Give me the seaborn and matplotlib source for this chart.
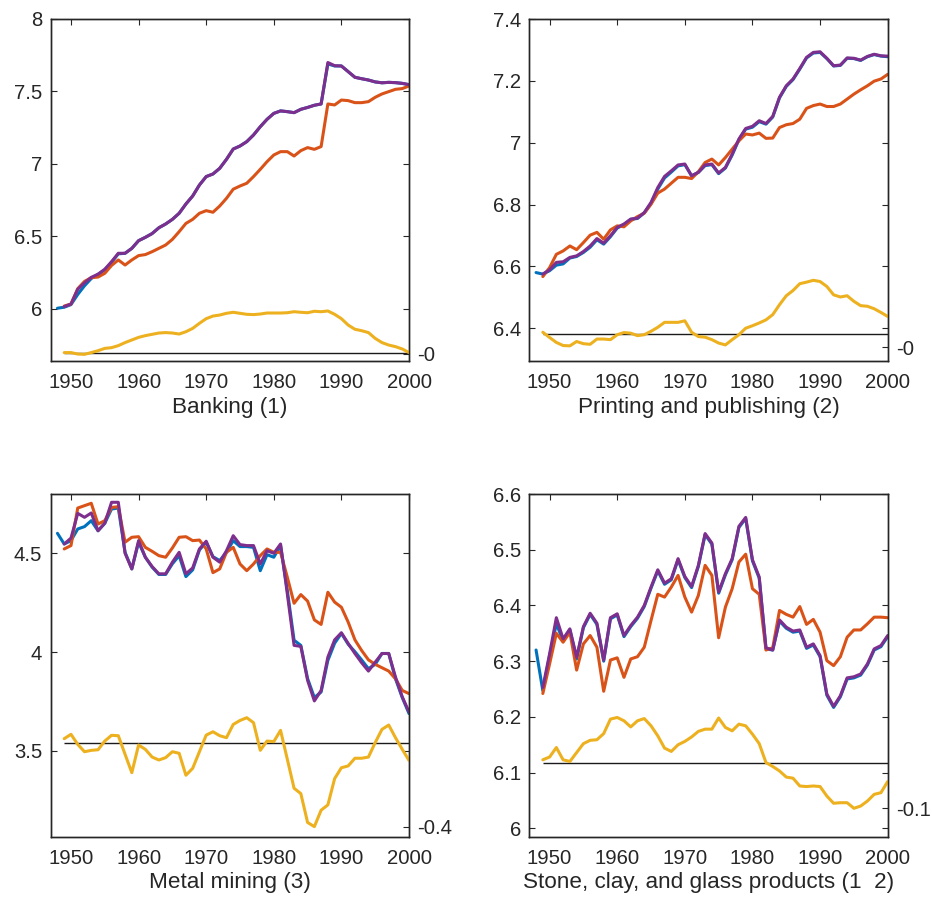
import numpy as np
import pandas as pd
import seaborn as sns
import matplotlib
matplotlib.use("Agg")
import matplotlib.pyplot as plt

# ---------------------------------------------------------------- data
years_blue = list(range(1948, 2001))
years = list(range(1949, 2001))

titles = ["Banking (1)", "Printing and publishing (2)",
          "Metal mining (3)", "Stone, clay, and glass products (1  2)"]

# Banking (1)
bank_blue = [6.005, 6.012, 6.030, 6.100, 6.160, 6.210, 6.238, 6.270, 6.322, 6.380,
             6.384, 6.418, 6.471, 6.494, 6.520, 6.560, 6.586, 6.618, 6.660, 6.724,
             6.779, 6.855, 6.913, 6.931, 6.970, 7.032, 7.103, 7.124, 7.154, 7.200,
             7.257, 7.308, 7.349, 7.366, 7.361, 7.354, 7.377, 7.390, 7.405, 7.414,
             7.690, 7.676, 7.676, 7.637, 7.598, 7.588, 7.579, 7.566, 7.560, 7.563,
             7.561, 7.556, 7.547]
bank_orange = [6.020, 6.034, 6.140, 6.190, 6.216, 6.220, 6.246, 6.300, 6.338, 6.303,
               6.338, 6.368, 6.375, 6.395, 6.418, 6.441, 6.480, 6.533, 6.590, 6.618,
               6.660, 6.678, 6.667, 6.710, 6.763, 6.826, 6.848, 6.867, 6.913, 6.963,
               7.016, 7.062, 7.085, 7.085, 7.055, 7.092, 7.113, 7.101, 7.120, 7.414,
               7.407, 7.441, 7.437, 7.423, 7.423, 7.430, 7.460, 7.483, 7.499, 7.515,
               7.520, 7.538]
bank_purple = [6.016, 6.034, 6.136, 6.180, 6.218, 6.240, 6.274, 6.326, 6.384, 6.384,
               6.418, 6.471, 6.494, 6.520, 6.560, 6.586, 6.618, 6.660, 6.724, 6.779,
               6.855, 6.913, 6.931, 6.970, 7.032, 7.103, 7.124, 7.154, 7.200, 7.257,
               7.308, 7.349, 7.366, 7.361, 7.354, 7.377, 7.390, 7.405, 7.414, 7.700,
               7.678, 7.676, 7.637, 7.598, 7.588, 7.579, 7.566, 7.560, 7.563, 7.561,
               7.556, 7.547]
bank_gap = [0.005, 0.005, -0.005, -0.007, 0.005, 0.018, 0.034, 0.039, 0.053, 0.074,
            0.092, 0.110, 0.122, 0.131, 0.140, 0.143, 0.140, 0.133, 0.149, 0.172,
            0.207, 0.239, 0.257, 0.264, 0.276, 0.283, 0.276, 0.269, 0.267, 0.271,
            0.278, 0.278, 0.278, 0.280, 0.287, 0.283, 0.280, 0.290, 0.287, 0.292,
            0.269, 0.239, 0.195, 0.166, 0.156, 0.143, 0.103, 0.074, 0.057, 0.046,
            0.030, 0.005]

# Printing and publishing (2)
print_blue = [6.580, 6.575, 6.586, 6.604, 6.608, 6.627, 6.632, 6.645, 6.662, 6.686,
              6.672, 6.696, 6.724, 6.735, 6.752, 6.755, 6.773, 6.803, 6.850, 6.886,
              6.905, 6.925, 6.929, 6.893, 6.904, 6.926, 6.929, 6.900, 6.918, 6.960,
              7.010, 7.044, 7.050, 7.068, 7.060, 7.083, 7.145, 7.182, 7.204, 7.238,
              7.274, 7.290, 7.292, 7.272, 7.248, 7.250, 7.273, 7.272, 7.266, 7.278,
              7.285, 7.280, 7.278]
print_orange = [6.567, 6.596, 6.639, 6.650, 6.666, 6.654, 6.677, 6.701, 6.710, 6.688,
                6.718, 6.731, 6.728, 6.747, 6.761, 6.772, 6.801, 6.837, 6.850, 6.869,
                6.888, 6.888, 6.884, 6.906, 6.936, 6.947, 6.928, 6.952, 6.979, 7.006,
                7.028, 7.025, 7.031, 7.014, 7.015, 7.049, 7.058, 7.062, 7.076, 7.111,
                7.120, 7.125, 7.117, 7.117, 7.125, 7.141, 7.157, 7.171, 7.184, 7.199,
                7.206, 7.221]
print_purple = [6.575, 6.589, 6.613, 6.615, 6.629, 6.634, 6.648, 6.666, 6.690, 6.675,
                6.699, 6.726, 6.737, 6.753, 6.756, 6.774, 6.807, 6.855, 6.891, 6.909,
                6.928, 6.931, 6.893, 6.904, 6.928, 6.931, 6.902, 6.920, 6.963, 7.012,
                7.046, 7.053, 7.071, 7.062, 7.085, 7.147, 7.184, 7.206, 7.240, 7.276,
                7.292, 7.294, 7.273, 7.249, 7.251, 7.274, 7.273, 7.267, 7.279, 7.286,
                7.281, 7.280]
print_gap = [0.006, -0.011, -0.027, -0.037, -0.038, -0.024, -0.031, -0.033, -0.016, -0.016,
             -0.018, -0.002, 0.005, 0.003, -0.005, -0.002, 0.009, 0.022, 0.038, 0.038,
             0.038, 0.043, 0.006, -0.008, -0.010, -0.018, -0.029, -0.035, -0.018, -0.002,
             0.019, 0.027, 0.036, 0.046, 0.063, 0.095, 0.124, 0.141, 0.163, 0.168,
             0.174, 0.170, 0.154, 0.127, 0.120, 0.124, 0.106, 0.092, 0.090, 0.082,
             0.070, 0.057]

# Metal mining (3)
metal_blue = [4.601, 4.547, 4.564, 4.623, 4.635, 4.665, 4.614, 4.652, 4.724, 4.729,
              4.505, 4.421, 4.556, 4.480, 4.430, 4.393, 4.393, 4.447, 4.488, 4.382,
              4.416, 4.517, 4.556, 4.483, 4.463, 4.505, 4.564, 4.534, 4.534, 4.530,
              4.412, 4.493, 4.480, 4.539, 4.312, 4.060, 4.034, 3.866, 3.770, 3.798,
              3.958, 4.045, 4.095, 4.040, 4.002, 3.960, 3.916, 3.938, 3.993, 3.993,
              3.865, 3.770, 3.689]
metal_orange = [4.522, 4.539, 4.729, 4.741, 4.753, 4.648, 4.665, 4.732, 4.736, 4.556,
                4.581, 4.584, 4.530, 4.510, 4.488, 4.480, 4.527, 4.581, 4.584, 4.564,
                4.567, 4.522, 4.402, 4.421, 4.505, 4.530, 4.446, 4.412, 4.446, 4.488,
                4.522, 4.505, 4.505, 4.379, 4.247, 4.291, 4.258, 4.163, 4.140, 4.303,
                4.253, 4.227, 4.152, 4.062, 4.008, 3.961, 3.938, 3.921, 3.904, 3.865,
                3.806, 3.790]
metal_purple = [4.547, 4.577, 4.702, 4.682, 4.704, 4.614, 4.652, 4.758, 4.758, 4.500,
                4.421, 4.564, 4.480, 4.433, 4.396, 4.396, 4.455, 4.505, 4.396, 4.426,
                4.522, 4.561, 4.480, 4.455, 4.513, 4.589, 4.544, 4.539, 4.539, 4.446,
                4.513, 4.500, 4.547, 4.295, 4.034, 4.029, 3.857, 3.753, 3.806, 3.975,
                4.062, 4.098, 4.044, 3.993, 3.946, 3.904, 3.949, 3.993, 3.993, 3.874,
                3.774, 3.697]
metal_gap = [0.022, 0.044, -0.007, -0.044, -0.037, -0.034, 0.010, 0.039, 0.037, -0.057,
             -0.150, -0.010, -0.032, -0.071, -0.086, -0.074, -0.044, -0.052, -0.163, -0.128,
             -0.044, 0.040, 0.057, 0.037, 0.027, 0.094, 0.114, 0.128, 0.103, -0.037,
             0.010, 0.007, 0.064, -0.082, -0.229, -0.256, -0.402, -0.423, -0.340, -0.313,
             -0.180, -0.125, -0.116, -0.077, -0.077, -0.071, 0.002, 0.069, 0.091, 0.027,
             -0.032, -0.088]

# Stone, clay, and glass products (1 2)
stone_blue = [6.320, 6.247, 6.310, 6.367, 6.337, 6.356, 6.304, 6.360, 6.384, 6.366,
              6.300, 6.376, 6.383, 6.344, 6.362, 6.377, 6.398, 6.431, 6.462, 6.438,
              6.446, 6.482, 6.450, 6.432, 6.470, 6.527, 6.510, 6.422, 6.455, 6.482,
              6.540, 6.556, 6.480, 6.449, 6.322, 6.320, 6.372, 6.359, 6.352, 6.354,
              6.323, 6.329, 6.308, 6.239, 6.217, 6.236, 6.268, 6.270, 6.275, 6.293,
              6.320, 6.326, 6.344]
stone_orange = [6.242, 6.295, 6.350, 6.334, 6.352, 6.284, 6.331, 6.346, 6.325, 6.246,
                6.302, 6.306, 6.271, 6.304, 6.308, 6.325, 6.373, 6.420, 6.415, 6.433,
                6.454, 6.415, 6.388, 6.418, 6.472, 6.454, 6.342, 6.397, 6.430, 6.478,
                6.492, 6.430, 6.420, 6.320, 6.324, 6.391, 6.384, 6.379, 6.398, 6.366,
                6.375, 6.352, 6.301, 6.292, 6.308, 6.343, 6.356, 6.356, 6.367, 6.379,
                6.379, 6.378]
stone_purple = [6.253, 6.313, 6.378, 6.340, 6.358, 6.307, 6.362, 6.386, 6.368, 6.302,
                6.378, 6.385, 6.346, 6.364, 6.379, 6.400, 6.433, 6.464, 6.440, 6.448,
                6.484, 6.452, 6.434, 6.472, 6.529, 6.512, 6.424, 6.457, 6.484, 6.542,
                6.558, 6.482, 6.451, 6.324, 6.320, 6.374, 6.361, 6.354, 6.356, 6.325,
                6.331, 6.310, 6.241, 6.219, 6.238, 6.270, 6.272, 6.277, 6.295, 6.322,
                6.328, 6.346]
stone_gap = [0.006, 0.011, 0.028, 0.006, 0.003, 0.019, 0.035, 0.041, 0.042, 0.053,
             0.079, 0.082, 0.076, 0.065, 0.076, 0.080, 0.067, 0.049, 0.027, 0.021,
             0.033, 0.039, 0.047, 0.057, 0.061, 0.061, 0.081, 0.064, 0.058, 0.070,
             0.067, 0.052, 0.035, 0.001, -0.006, -0.014, -0.025, -0.027, -0.041, -0.042,
             -0.041, -0.042, -0.059, -0.072, -0.071, -0.071, -0.081, -0.077, -0.068, -0.056,
             -0.053, -0.033]

blues = [bank_blue, print_blue, metal_blue, stone_blue]
oranges = [bank_orange, print_orange, metal_orange, stone_orange]
purples = [bank_purple, print_purple, metal_purple, stone_purple]
gaps = [bank_gap, print_gap, metal_gap, stone_gap]

# left-axis limits and ticks
left_ylims = [(5.641, 8.0), (6.294, 7.4), (3.066, 4.80), (5.985, 6.6)]
left_yticks = [[6, 6.5, 7, 7.5, 8], [6.4, 6.6, 6.8, 7.0, 7.2, 7.4],
               [3.5, 4.0, 4.5], [6.0, 6.1, 6.2, 6.3, 6.4, 6.5, 6.6]]
left_yticklabels = [["6", "6.5", "7", "7.5", "8"],
                    ["6.4", "6.6", "6.8", "7", "7.2", "7.4"],
                    ["3.5", "4", "4.5"],
                    ["6", "6.1", "6.2", "6.3", "6.4", "6.5", "6.6"]]
# right axis shares the left scale, shifted so that its zero sits here
right_zero_at = [5.694, 6.381, 3.540, 6.117]
right_ticks = [-0.002, -0.042, -0.424, -0.081]
right_ticklabels = ["-0", "-0", "-0.4", "-0.1"]

xticks = [1950, 1960, 1970, 1980, 1990, 2000]

# ---------------------------------------------------------------- style
sns.set_theme(style="white")
plt.rcParams["font.family"] = ["Liberation Sans", "DejaVu Sans"]
TXT = "#262626"
plt.rcParams.update({
    "text.color": TXT, "axes.labelcolor": TXT,
    "xtick.color": TXT, "ytick.color": TXT,
    "axes.edgecolor": TXT, "axes.linewidth": 1.0,
})

C_BLUE = "#0072BD"
C_ORANGE = "#D95319"
C_YELLOW = "#EDB120"
C_PURPLE = "#7E2F8E"
LW = 2.2

fig = plt.figure(figsize=(9.32, 8.99), dpi=100)
W, H = 932.0, 899.0
boxes = [(50.7, 19, 409, 361), (529.3, 19, 887.7, 361),
         (50.7, 494, 409, 836.7), (529.3, 494, 887.7, 836.7)]

for i in range(4):
    l, t, r, b = boxes[i]
    ax = fig.add_axes([l / W, 1 - b / H, (r - l) / W, (b - t) / H])

    d_blue = pd.DataFrame({"year": years_blue, "value": blues[i]})
    d_main = pd.DataFrame({"year": years, "orange": oranges[i],
                           "purple": purples[i], "gap": gaps[i]})

    sns.lineplot(data=d_blue, x="year", y="value", color=C_BLUE, lw=LW, ax=ax)
    sns.lineplot(data=d_main, x="year", y="orange", color=C_ORANGE, lw=LW, ax=ax)
    sns.lineplot(data=d_main, x="year", y="purple", color=C_PURPLE, lw=LW, ax=ax)

    ax.set_xlim(1947, 2000)
    lo, hi = left_ylims[i]
    ax.set_ylim(lo, hi)
    ax.set_xticks(xticks)
    ax.set_xticklabels([str(v) for v in xticks])
    ax.set_yticks(left_yticks[i])
    ax.set_yticklabels(left_yticklabels[i])
    ax.set_ylabel("")
    ax.set_xlabel(titles[i], fontsize=16.2, labelpad=3)

    ax2 = ax.twinx()
    z = right_zero_at[i]
    ax2.set_ylim(lo - z, hi - z)
    ax2.hlines(0, years[0], years[-1], color="#1a1a1a", lw=1.0, zorder=1)
    sns.lineplot(data=d_main, x="year", y="gap", color=C_YELLOW, lw=LW, ax=ax2)
    ax2.set_ylabel("")
    ax2.set_xlim(1947, 2000)
    ax2.set_yticks([right_ticks[i]])
    ax2.set_yticklabels([right_ticklabels[i]])
    ax2.tick_params(axis="y", direction="in", length=4, width=0.8,
                    labelsize=14.6, pad=6, left=False, right=True)

    ax.tick_params(axis="both", direction="in", length=4, width=0.8,
                   labelsize=14.6, top=True, right=True)
    ax.tick_params(axis="y", pad=6)
    ax.tick_params(axis="x", pad=9)
    for sp in ax.spines.values():
        sp.set_visible(True)
        sp.set_color(TXT)

fig.savefig("out.png", dpi=100)
